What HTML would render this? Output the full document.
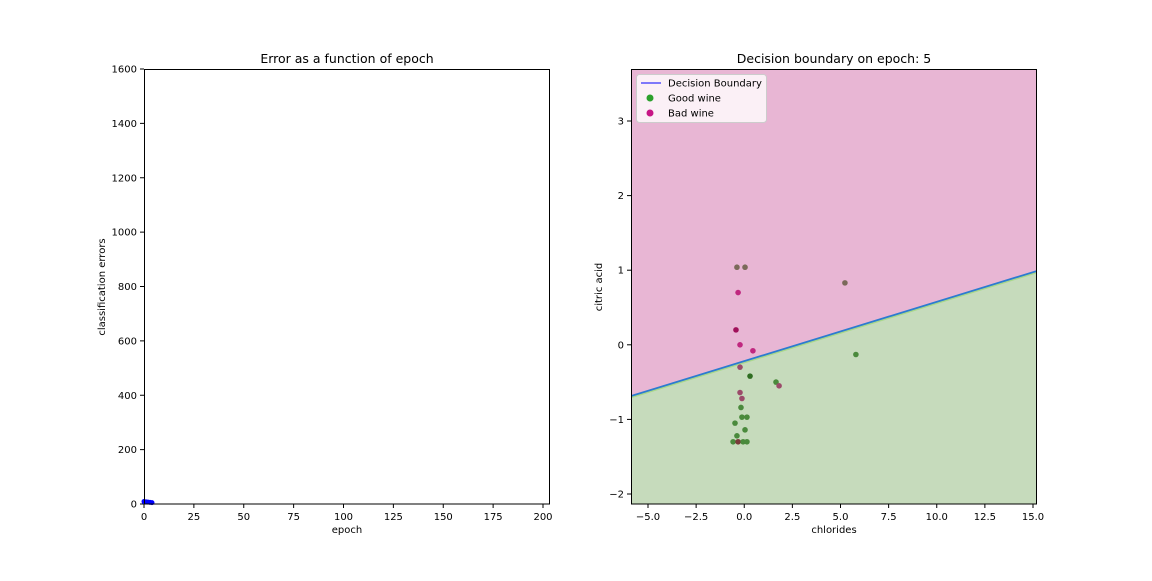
<!DOCTYPE html>
<html><head><meta charset="utf-8"><style>
body{margin:0;background:#fff;font-family:"Liberation Sans","DejaVu Sans",sans-serif}
svg text{font-family:"DejaVu Sans","Liberation Sans",sans-serif;font-size:10px;fill:#000}
</style></head><body>
<svg id="s" width="1152" height="576" xmlns="http://www.w3.org/2000/svg"></svg>
<script>
// Left chart data
const epochs=[0,1,2,3,4];
const errors=[9,8,7,6,5];
const leftXTicks=[0,25,50,75,100,125,150,175,200];
const leftYTicks=[0,200,400,600,800,1000,1200,1400,1600];
// Right chart data
const rightXTicks=[-5.0,-2.5,0.0,2.5,5.0,7.5,10.0,12.5,15.0];
const rightYTicks=[-2,-1,0,1,2,3];
const boundarySlope=0.0795, boundaryIntercept=-0.219;
const ptX=[-0.38,0.04,5.23,-0.32,-0.43,-0.22,0.45,-0.22,0.30,1.65,1.81,5.8,-0.22,-0.12,-0.17,-0.12,0.14,-0.48,0.04,-0.38,-0.58,-0.32,-0.06,0.14];
const ptY=[1.04,1.04,0.83,0.70,0.20,0.0,-0.08,-0.30,-0.42,-0.50,-0.55,-0.13,-0.64,-0.72,-0.84,-0.97,-0.97,-1.05,-1.14,-1.22,-1.30,-1.30,-1.30,-1.30];
const ptC=['#7b6a5a','#7b6a5a','#7b6a5a','#c0277f','#a0105a','#c0277f','#c0277f','#9b4b6a','#2f6e22','#4a8a3c','#9b4b6a','#4a8a3c','#9b4b6a','#9b4b6a','#4a8a3c','#4a8a3c','#4a8a3c','#4a8a3c','#4a8a3c','#4a8a3c','#4a8a3c','#7a3a3a','#4a8a3c','#4a8a3c'];

const S=document.getElementById('s');const NS='http://www.w3.org/2000/svg';
function el(t,a,txt){const e=document.createElementNS(NS,t);for(const k in a)e.setAttribute(k,a[k]);if(txt!==undefined)e.textContent=txt;S.appendChild(e);return e;}

// LEFT
const lx=v=>144+v*(543-144)/200, ly=v=>504-v*(504-69)/1600;
let t;
t=el('text',{x:347,y:63,'text-anchor':'middle',style:'font-size:12.5px'},'Error as a function of epoch');


leftXTicks.forEach(v=>{el('line',{x1:lx(v),x2:lx(v),y1:504,y2:508,stroke:'#000'});
 t=el('text',{x:lx(v),y:520,'text-anchor':'middle'},v);
 
 });
leftYTicks.forEach(v=>{el('line',{x1:140,x2:144,y1:ly(v),y2:ly(v),stroke:'#000'});
 t=el('text',{x:137,y:ly(v)+3.5,'text-anchor':'end'},v);
 
 });
t=el('text',{x:347,y:533,'text-anchor':'middle'},'epoch');


t=el('text',{x:105,y:287,'text-anchor':'middle',transform:'rotate(-90 105 287)'},'classification errors');


t=el('polyline',{points:epochs.map((e,i)=>lx(e)+','+ly(errors[i])).join(' '),fill:'none',stroke:'#0000ff','stroke-width':1.5});


epochs.forEach((e,i)=>{t=el('circle',{cx:lx(e),cy:ly(errors[i]),r:2.5,fill:'#0000ff'});
 
 });
t=el('rect',{x:144.5,y:69.5,width:405,height:434.5,fill:'none',stroke:'#000','stroke-width':1});



// RIGHT
const rx=v=>648+(v+5)*19.25, ry=v=>121+(3-v)*74.6;
const xmin=-5.88,xmax=15.21;
const cp=el('clipPath',{id:'c'});const cr=document.createElementNS(NS,'rect');
cr.setAttribute('x',631);cr.setAttribute('y',69);cr.setAttribute('width',406);cr.setAttribute('height',435);cp.appendChild(cr);
t=el('rect',{x:631,y:69,width:406,height:435,fill:'#e8b6d4'});


const by=x=>ry(boundarySlope*x+boundaryIntercept);
t=el('polygon',{points:`${rx(xmin)},${by(xmin)} ${rx(xmax)},${by(xmax)} 1037,504 631,504`,fill:'#c6dbbc','clip-path':'url(#c)'});


t=el('line',{x1:rx(xmin),y1:by(xmin)+1.5,x2:rx(xmax),y2:by(xmax)+1.5,stroke:'#a8d88a','stroke-width':1.5,'clip-path':'url(#c)'});
t=el('line',{x1:rx(xmin),y1:by(xmin),x2:rx(xmax),y2:by(xmax),stroke:'#2c7bd0','stroke-width':1.8,'clip-path':'url(#c)'});


ptX.forEach((x,i)=>{t=el('circle',{cx:rx(x),cy:ry(ptY[i]),r:2.8,fill:ptC[i],'clip-path':'url(#c)'});
 
 });
t=el('rect',{x:631.5,y:69.5,width:405,height:434.5,fill:'none',stroke:'#000'});


t=el('text',{x:834,y:63,'text-anchor':'middle',style:'font-size:12.5px'},'Decision boundary on epoch: 5');


rightXTicks.forEach(v=>{el('line',{x1:rx(v),x2:rx(v),y1:504,y2:508,stroke:'#000'});
 t=el('text',{x:rx(v),y:520,'text-anchor':'middle'},v.toFixed(1).replace('-','−'));
 
 });
rightYTicks.forEach(v=>{el('line',{x1:627,x2:631,y1:ry(v),y2:ry(v),stroke:'#000'});
 t=el('text',{x:624,y:ry(v)+3.5,'text-anchor':'end'},String(v).replace('-','−'));
 
 });
t=el('text',{x:834,y:533,'text-anchor':'middle'},'chlorides');


t=el('text',{x:602,y:287,'text-anchor':'middle',transform:'rotate(-90 602 287)'},'citric acid');


// legend
t=el('rect',{x:636.5,y:74.5,width:130,height:48,rx:3,fill:'#fbf0f6',stroke:'#ccc'});


el('line',{x1:641,x2:661,y1:83,y2:83,stroke:'#0000ff','stroke-width':1});
t=el('text',{x:668,y:86.5},'Decision Boundary');


el('circle',{cx:650,cy:98,r:3.5,fill:'#2ca02c'});
t=el('text',{x:668,y:101.5},'Good wine');


el('circle',{cx:650,cy:113,r:3.5,fill:'#c71585'});
t=el('text',{x:668,y:116.5},'Bad wine');


</script>
</body></html>
